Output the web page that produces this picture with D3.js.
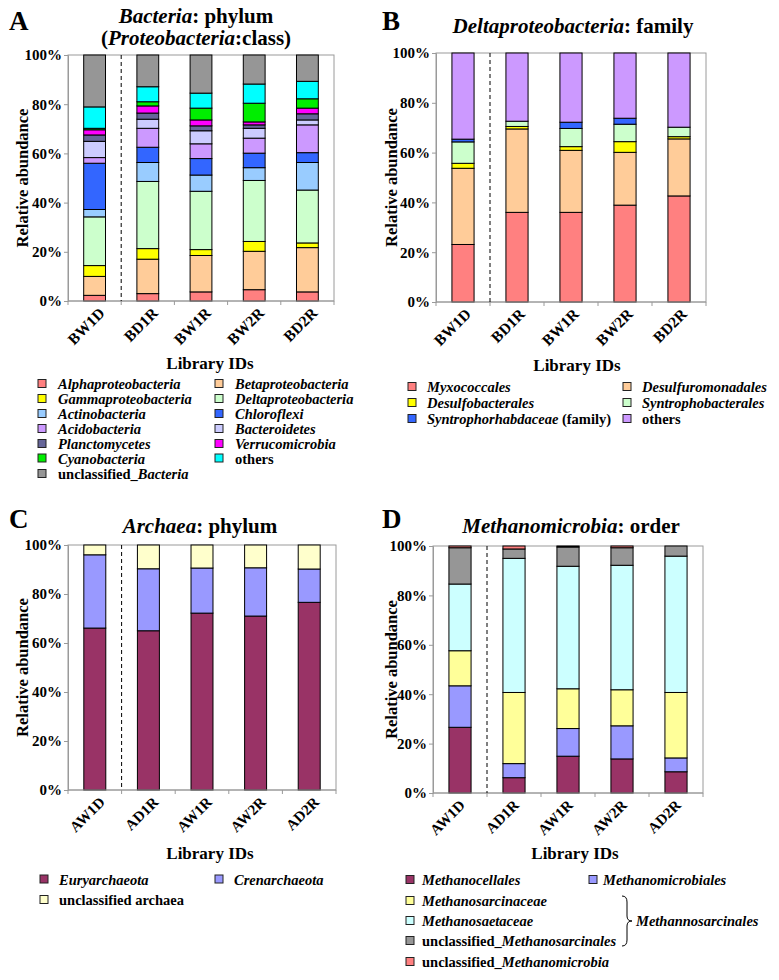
<!DOCTYPE html>
<html><head><meta charset="utf-8">
<script src="https://cdn.jsdelivr.net/npm/d3@7"></script>
<style>body{margin:0;background:#fff} svg text{font-family:"Liberation Serif","DejaVu Serif",serif;}</style>
</head><body>
<svg id="c" width="779" height="980"></svg>
<script>
// ---------- DATA ----------
const bacCats = ["BW1D","BD1R","BW1R","BW2R","BD2R"];
const bacSeries = ["*Alphaproteobacteria*","*Betaproteobacteria*","*Gammaproteobacteria*","*Deltaproteobacteria*","*Actinobacteria*","*Chloroflexi*","*Acidobacteria*","*Bacteroidetes*","*Planctomycetes*","*Verrucomicrobia*","*Cyanobacteria*","others","unclassified_*Bacteria*"];
const bacColors = ["#FF8080","#FFCC99","#FFFF00","#CCFFCC","#99CCFF","#3366FF","#CC99FF","#CCCCFF","#666699","#FF00FF","#00EE00","#00FFFF","#969696"];
const bacValues = [
  [2.3,3.0,3.7,4.6,3.7],
  [7.7,14.0,14.8,15.6,18.0],
  [4.4,4.3,2.4,4.0,1.9],
  [19.8,27.3,23.7,24.8,21.5],
  [3.0,7.7,6.6,5.2,11.2],
  [18.8,6.2,6.7,5.9,4.0],
  [2.3,7.7,6.0,6.1,11.3],
  [6.6,3.7,5.3,4.0,2.0],
  [2.6,2.5,2.0,1.4,2.5],
  [2.1,2.9,2.4,1.2,2.3],
  [0.6,1.7,4.8,7.6,3.8],
  [8.7,6.1,6.1,7.8,7.1],
  [21.1,12.9,15.5,11.8,10.7]
];
const deltaSeries = ["*Myxococcales*","*Desulfuromonadales*","*Desulfobacterales*","*Syntrophobacterales*","*Syntrophorhabdaceae* (family)","others"];
const deltaColors = ["#FF8080","#FFCC99","#FFFF00","#CCFFCC","#3366FF","#CC99FF"];
const deltaValues = [
  [23.1,36.0,36.0,38.9,42.6],
  [30.6,33.5,24.9,21.2,22.9],
  [2.0,1.0,1.5,4.3,0.9],
  [8.6,2.1,7.3,7.0,3.8],
  [1.1,0,2.5,2.4,0],
  [34.6,27.4,27.8,26.2,29.8]
];
const arcCats = ["AW1D","AD1R","AW1R","AW2R","AD2R"];
const arcSeries = ["*Euryarchaeota*","*Crenarchaeota*","unclassified archaea"];
const arcColors = ["#993366","#9999FF","#FFFFCC"];
const arcValues = [
  [66.1,65.0,72.2,71.0,76.6],
  [29.9,25.3,18.4,19.7,13.6],
  [4.0,9.7,9.4,9.3,9.8]
];
const metSeries = ["*Methanocellales*","*Methanomicrobiales*","*Methanosarcinaceae*","*Methanosaetaceae*","unclassified_*Methanosarcinales*","unclassified_*Methanomicrobia*"];
const metColors = ["#993366","#9999FF","#FFFF99","#CCFFFF","#969696","#FF8080"];
const metValues = [
  [26.6,6.2,14.9,13.8,8.6],
  [16.8,5.7,11.2,13.4,5.6],
  [14.2,28.8,16.1,14.6,26.5],
  [27.0,54.3,49.6,50.4,55.2],
  [14.7,3.8,7.8,7.1,4.1],
  [0.7,1.2,0.4,0.7,0.0]
];
const yTicks = [0,20,40,60,80,100];

// ---------- DRAW ----------
const FONT = "Liberation Serif, DejaVu Serif, serif";
const svg = d3.select("#c").attr("font-family", FONT);
svg.append("rect").attr("width",779).attr("height",980).attr("fill","#fff");

function rich(textSel, str){
  str.split("*").forEach((p,i)=>{
    if(!p) return;
    textSel.append("tspan").attr("font-style", i%2 ? "italic":"normal").text(p);
  });
}

function panel(o){
  const g = svg.append("g").attr("font-family", FONT);
  const x = d3.scaleBand().domain(o.cats).range([o.left,o.right]).paddingInner(0.59).paddingOuter(0.295);
  const step = x.step();
  const y = d3.scaleLinear().domain([0,100]).range([o.bottom,o.top]);
  g.append("rect").attr("x",o.left).attr("y",o.top).attr("width",o.right-o.left).attr("height",o.bottom-o.top)
    .attr("fill","none").attr("stroke","#9a9a9a").attr("stroke-width",1);
  const rows = o.cats.map((c,j)=>{const r={cat:c}; o.series.forEach((s,i)=>r[i]=o.values[i][j]); return r;});
  const stack = d3.stack().keys(o.series.map((s,i)=>i))(rows);
  stack.forEach((layer,i)=>{
    g.selectAll(null).data(layer).enter().append("rect")
      .attr("x",d=>x(d.data.cat)).attr("width",x.bandwidth())
      .attr("y",d=>y(d[1])).attr("height",d=>Math.max(0,y(d[0])-y(d[1])))
      .attr("fill",o.colors[i]).attr("stroke","#000").attr("stroke-width",1)
      .attr("visibility",d=>d[1]-d[0]>0?"visible":"hidden");
  });
  const ya = g.append("g").attr("transform",`translate(${o.left},0)`)
    .call(d3.axisLeft(y).tickValues(yTicks).tickFormat(d=>d+"%").tickSize(4).tickPadding(2));
  ya.attr("font-family",FONT);
  ya.select(".domain").attr("stroke","#9a9a9a");
  ya.selectAll(".tick line").attr("stroke","#9a9a9a");
  ya.selectAll("text").attr("font-family",FONT).attr("font-size",15).attr("font-weight","bold").attr("fill","#000");
  g.append("line").attr("x1",o.left).attr("x2",o.right).attr("y1",o.bottom).attr("y2",o.bottom).attr("stroke","#9a9a9a");
  d3.range(6).forEach(i=>{
    const xx = o.left + i*step;
    g.append("line").attr("x1",xx).attr("x2",xx).attr("y1",o.bottom).attr("y2",o.bottom+4).attr("stroke","#9a9a9a");
  });
  g.append("line").attr("x1",o.left+step).attr("x2",o.left+step).attr("y1",o.top).attr("y2",o.bottom)
    .attr("stroke","#000").attr("stroke-dasharray","4,3").attr("stroke-width",1);
  o.cats.forEach(c=>{
    const cx = x(c)+x.bandwidth()/2 + o.lblDx, cy = o.bottom + 13;
    g.append("text").attr("transform",`translate(${cx},${cy}) rotate(-45)`)
      .attr("text-anchor","end").attr("font-size",o.lblFs).attr("font-weight","bold").text(c);
  });
  g.append("text").attr("transform",`translate(${o.ytx},${(o.top+o.bottom)/2}) rotate(-90)`)
    .attr("text-anchor","middle").attr("font-size",16.5).attr("font-weight","bold").text("Relative abundance");
  g.append("text").attr("x",o.xtx).attr("y",o.xty).attr("text-anchor","middle")
    .attr("font-size",17).attr("font-weight","bold").text("Library IDs");
  g.append("text").attr("x",o.lx).attr("y",o.ly).attr("font-size",27).attr("font-weight","bold").text(o.letter);
  o.titles.forEach(t=>{
    const tt = g.append("text").attr("x",t.x).attr("y",t.y).attr("text-anchor","middle")
      .attr("font-size",21).attr("font-weight","bold");
    rich(tt,t.s);
  });
  o.legend.forEach(L=>{
    const i = L.i;
    g.append("rect").attr("x",L.x).attr("y",L.y-4.5).attr("width",8).attr("height",8)
      .attr("fill",o.colors[i]).attr("stroke","#222").attr("stroke-width",1);
    const t = g.append("text").attr("x",L.x+L.dx).attr("y",L.y+5).attr("font-size",14.5).attr("font-weight","bold");
    rich(t,o.series[i]);
  });
  return g;
}

function legendGrid(ord, rowsY, colX, dx){
  return ord.map((si,k)=>({i:si, x:colX[k%2], y:rowsY[Math.floor(k/2)], dx:dx}));
}

panel({
  cats:bacCats, series:bacSeries, colors:bacColors, values:bacValues,
  left:68, right:334, top:55, bottom:301, ytx:28, xtx:210, xty:369,
  letter:"A", lx:9, ly:30, lblDx:11, lblFs:15.5,
  titles:[{x:196,y:23,s:"*Bacteria*: phylum"},{x:196,y:45,s:"(*Proteobacteria*:class)"}],
  legend: legendGrid(d3.range(13), [384,399,414,429,444,458.5,474], [38,215], 20)
});
panel({
  cats:bacCats, series:deltaSeries, colors:deltaColors, values:deltaValues,
  left:436, right:706, top:53, bottom:302, ytx:397, xtx:577, xty:371,
  letter:"B", lx:382, ly:30, lblDx:9, lblFs:15.5,
  titles:[{x:573,y:33,s:"*Deltaproteobacteria*: family"}],
  legend: legendGrid(d3.range(6), [387,403,419], [408,623], 19)
});
panel({
  cats:arcCats, series:arcSeries, colors:arcColors, values:arcValues,
  left:68, right:336, top:545, bottom:790, ytx:28, xtx:210, xty:859,
  letter:"C", lx:9, ly:528, lblDx:11, lblFs:15,
  titles:[{x:200,y:533,s:"*Archaea*: phylum"}],
  legend: legendGrid(d3.range(3), [879.5,900], [40,215], 19)
});
const gD = panel({
  cats:arcCats, series:metSeries, colors:metColors, values:metValues,
  left:433, right:703, top:546, bottom:793, ytx:397, xtx:575, xty:859,
  letter:"D", lx:382, ly:528, lblDx:6, lblFs:15,
  titles:[{x:571,y:533,s:"*Methanomicrobia*: order"}],
  legend: [
    {i:0,x:406,y:880,dx:16},{i:1,x:589,y:880,dx:14},
    {i:2,x:406,y:901,dx:16},{i:3,x:406,y:921,dx:16},
    {i:4,x:406,y:941,dx:16},{i:5,x:406,y:962,dx:16}
  ]
});
const bx=622, by0=896, by1=946, bm=(by0+by1)/2;
gD.append("path").attr("fill","none").attr("stroke","#000").attr("stroke-width",1)
  .attr("d",`M${bx},${by0} Q${bx+5},${by0} ${bx+5},${by0+6} L${bx+5},${bm-5} Q${bx+5},${bm} ${bx+10},${bm}
             Q${bx+5},${bm} ${bx+5},${bm+5} L${bx+5},${by1-6} Q${bx+5},${by1} ${bx},${by1}`);
const mt = gD.append("text").attr("x",636).attr("y",926).attr("font-size",14.5).attr("font-weight","bold");
rich(mt,"*Methannosarcinales*");
</script>
</body></html>
